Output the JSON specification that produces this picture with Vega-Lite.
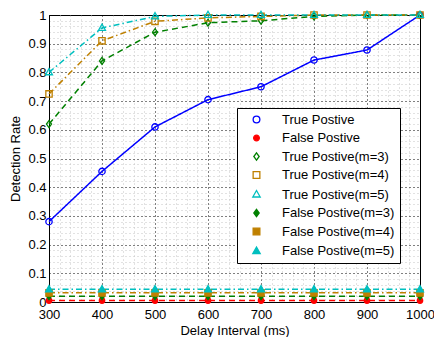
{
  "$schema": "https://vega.github.io/schema/vega-lite/v6.json",
  "width": 371,
  "height": 287,
  "autosize": {"type": "none"},
  "padding": {"left": 49, "top": 15, "right": 14, "bottom": 35},
  "background": "white",
  "config": {
    "view": {"stroke": "black", "strokeWidth": 1},
    "font": "Liberation Sans",
    "axis": {
      "labelFont": "Liberation Sans",
      "titleFont": "Liberation Sans",
      "labelFontSize": 13,
      "titleFontSize": 13,
      "titleFontWeight": "normal",
      "labelColor": "black",
      "titleColor": "black",
      "domainColor": "black",
      "ticks": false,
      "labelOverlap": false,
      "labelFlush": false
    },
    "legend": {
      "labelFont": "Liberation Sans",
      "labelFontSize": 13,
      "labelColor": "black",
      "orient": "none", "legendX": 188, "legendY": 93,
      "padding": 5, "strokeColor": "black", "fillColor": "white",
      "symbolSize": 45, "symbolStrokeWidth": 1.3, "rowPadding": 4.5,
      "symbolOffset": 8, "labelOffset": 19
    }
  },
  "data": {
    "values": [
      {"series": "True Postive", "x": 300, "y": 0.28},
      {"series": "True Postive", "x": 400, "y": 0.455},
      {"series": "True Postive", "x": 500, "y": 0.61},
      {"series": "True Postive", "x": 600, "y": 0.705},
      {"series": "True Postive", "x": 700, "y": 0.75},
      {"series": "True Postive", "x": 800, "y": 0.843},
      {"series": "True Postive", "x": 900, "y": 0.878},
      {"series": "True Postive", "x": 1000, "y": 1.0},
      {"series": "False Postive", "x": 300, "y": 0.005},
      {"series": "False Postive", "x": 400, "y": 0.005},
      {"series": "False Postive", "x": 500, "y": 0.005},
      {"series": "False Postive", "x": 600, "y": 0.005},
      {"series": "False Postive", "x": 700, "y": 0.005},
      {"series": "False Postive", "x": 800, "y": 0.005},
      {"series": "False Postive", "x": 900, "y": 0.005},
      {"series": "False Postive", "x": 1000, "y": 0.005},
      {"series": "True Postive(m=3)", "x": 300, "y": 0.62},
      {"series": "True Postive(m=3)", "x": 400, "y": 0.84},
      {"series": "True Postive(m=3)", "x": 500, "y": 0.94},
      {"series": "True Postive(m=3)", "x": 600, "y": 0.973},
      {"series": "True Postive(m=3)", "x": 700, "y": 0.98},
      {"series": "True Postive(m=3)", "x": 800, "y": 0.995},
      {"series": "True Postive(m=3)", "x": 900, "y": 1.0},
      {"series": "True Postive(m=3)", "x": 1000, "y": 1.0},
      {"series": "True Postive(m=4)", "x": 300, "y": 0.725},
      {"series": "True Postive(m=4)", "x": 400, "y": 0.91},
      {"series": "True Postive(m=4)", "x": 500, "y": 0.978},
      {"series": "True Postive(m=4)", "x": 600, "y": 0.99},
      {"series": "True Postive(m=4)", "x": 700, "y": 0.995},
      {"series": "True Postive(m=4)", "x": 800, "y": 1.0},
      {"series": "True Postive(m=4)", "x": 900, "y": 1.0},
      {"series": "True Postive(m=4)", "x": 1000, "y": 1.0},
      {"series": "True Postive(m=5)", "x": 300, "y": 0.8},
      {"series": "True Postive(m=5)", "x": 400, "y": 0.955},
      {"series": "True Postive(m=5)", "x": 500, "y": 0.995},
      {"series": "True Postive(m=5)", "x": 600, "y": 1.0},
      {"series": "True Postive(m=5)", "x": 700, "y": 1.0},
      {"series": "True Postive(m=5)", "x": 800, "y": 1.0},
      {"series": "True Postive(m=5)", "x": 900, "y": 1.0},
      {"series": "True Postive(m=5)", "x": 1000, "y": 1.0},
      {"series": "False Postive(m=3)", "x": 300, "y": 0.02},
      {"series": "False Postive(m=3)", "x": 400, "y": 0.02},
      {"series": "False Postive(m=3)", "x": 500, "y": 0.02},
      {"series": "False Postive(m=3)", "x": 600, "y": 0.02},
      {"series": "False Postive(m=3)", "x": 700, "y": 0.02},
      {"series": "False Postive(m=3)", "x": 800, "y": 0.02},
      {"series": "False Postive(m=3)", "x": 900, "y": 0.02},
      {"series": "False Postive(m=3)", "x": 1000, "y": 0.02},
      {"series": "False Postive(m=4)", "x": 300, "y": 0.032},
      {"series": "False Postive(m=4)", "x": 400, "y": 0.032},
      {"series": "False Postive(m=4)", "x": 500, "y": 0.032},
      {"series": "False Postive(m=4)", "x": 600, "y": 0.032},
      {"series": "False Postive(m=4)", "x": 700, "y": 0.032},
      {"series": "False Postive(m=4)", "x": 800, "y": 0.032},
      {"series": "False Postive(m=4)", "x": 900, "y": 0.032},
      {"series": "False Postive(m=4)", "x": 1000, "y": 0.032},
      {"series": "False Postive(m=5)", "x": 300, "y": 0.044},
      {"series": "False Postive(m=5)", "x": 400, "y": 0.044},
      {"series": "False Postive(m=5)", "x": 500, "y": 0.044},
      {"series": "False Postive(m=5)", "x": 600, "y": 0.044},
      {"series": "False Postive(m=5)", "x": 700, "y": 0.044},
      {"series": "False Postive(m=5)", "x": 800, "y": 0.044},
      {"series": "False Postive(m=5)", "x": 900, "y": 0.044},
      {"series": "False Postive(m=5)", "x": 1000, "y": 0.044}
    ]
  },
  "encoding": {
    "x": {
      "field": "x", "type": "quantitative",
      "scale": {"domain": [300, 1000], "nice": false, "zero": false},
      "axis": {
        "title": "Delay Interval (ms)",
        "values": [300,320,340,360,380,400,420,440,460,480,500,520,540,560,580,600,620,640,660,680,700,720,740,760,780,800,820,840,860,880,900,920,940,960,980,1000],
        "labelExpr": "datum.value % 100 === 0 ? format(datum.value, 'd') : ''",
        "labelPadding": 6,
        "titlePadding": 3,
        "grid": true,
        "gridColor": {"condition": {"test": "datum.value % 100 === 0", "value": "black"}, "value": "#c4c4c4"},
        "gridDash": {"condition": {"test": "datum.value % 100 === 0", "value": [1, 3]}, "value": [1, 3]},
        "gridWidth": 1
      }
    },
    "y": {
      "field": "y", "type": "quantitative",
      "scale": {"domain": [0, 1], "nice": false},
      "axis": {
        "title": "Detection Rate",
        "values": [0,0.02,0.04,0.06,0.08,0.1,0.12,0.14,0.16,0.18,0.2,0.22,0.24,0.26,0.28,0.3,0.32,0.34,0.36,0.38,0.4,0.42,0.44,0.46,0.48,0.5,0.52,0.54,0.56,0.58,0.6,0.62,0.64,0.66,0.68,0.7,0.72,0.74,0.76,0.78,0.8,0.82,0.84,0.86,0.88,0.9,0.92,0.94,0.96,0.98,1],
        "labelExpr": "abs(datum.value*10 - round(datum.value*10)) < 0.001 ? format(datum.value, '.1~f') : ''",
        "labelPadding": 3,
        "titlePadding": 5,
        "grid": true,
        "gridColor": {"condition": {"test": "abs(datum.value*10 - round(datum.value*10)) < 0.001", "value": "black"}, "value": "#c4c4c4"},
        "gridDash": {"condition": {"test": "abs(datum.value*10 - round(datum.value*10)) < 0.001", "value": [1, 3]}, "value": [1, 3]},
        "gridWidth": 1
      }
    }
  },
  "layer": [
    {
      "mark": {"type": "line", "strokeWidth": 1.5, "clip": false},
      "encoding": {
        "detail": {"field": "series", "type": "nominal"},
        "stroke": {
          "field": "series", "type": "nominal",
          "scale": {
            "domain": ["True Postive","False Postive","True Postive(m=3)","True Postive(m=4)","True Postive(m=5)","False Postive(m=3)","False Postive(m=4)","False Postive(m=5)"],
            "range": ["#0000ff","#ff0000","#008000","#bf8000","#00bfbf","#008000","#bf8000","#00bfbf"]
          },
          "legend": {"title": null}
        },
        "strokeDash": {
          "condition": [
            {"test": "datum.series === 'True Postive'", "value": [1, 0]},
            {"test": "datum.series === 'False Postive' || indexof(datum.series, 'm=3') >= 0", "value": [6, 4]}
          ],
          "value": [6, 3, 1.5, 3]
        }
      }
    },
    {
      "mark": {"type": "point", "size": 40, "strokeWidth": 1.3, "opacity": 1, "clip": false},
      "encoding": {
        "stroke": {
          "field": "series", "type": "nominal",
          "legend": {"title": null}
        },
        "fill": {
          "field": "series", "type": "nominal",
          "scale": {
            "domain": ["True Postive","False Postive","True Postive(m=3)","True Postive(m=4)","True Postive(m=5)","False Postive(m=3)","False Postive(m=4)","False Postive(m=5)"],
            "range": ["transparent","#ff0000","transparent","transparent","transparent","#008000","#bf8000","#00bfbf"]
          },
          "legend": {"title": null}
        },
        "shape": {
          "field": "series", "type": "nominal",
          "scale": {
            "domain": ["True Postive","False Postive","True Postive(m=3)","True Postive(m=4)","True Postive(m=5)","False Postive(m=3)","False Postive(m=4)","False Postive(m=5)"],
            "range": ["circle","M0.85,0A0.85,0.85,0,1,1,-0.85,0A0.85,0.85,0,1,1,0.85,0Z","M0,-1.1L0.8,0L0,1.1L-0.8,0Z","square","M0,-1.2L1.1,0.75H-1.1Z","M0,-1.1L0.8,0L0,1.1L-0.8,0Z","square","M0,-1.2L1.1,0.75H-1.1Z"]
          },
          "legend": {"title": null}
        }
      }
    }
  ]
}
